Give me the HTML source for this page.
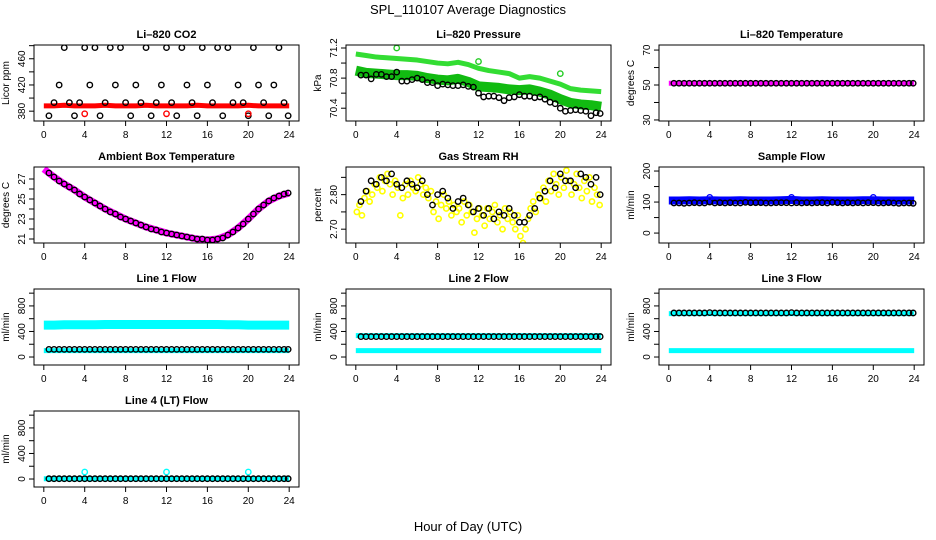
<!DOCTYPE html>
<html><head><meta charset="utf-8"><style>
body{margin:0;background:#fff}
svg{display:block;font-family:"Liberation Sans",Arial,sans-serif}
</style></head><body>
<svg id="c" width="936" height="540">
<text x="468" y="14" text-anchor="middle" font-size="13">SPL_110107  Average Diagnostics</text>
<text x="468" y="531" text-anchor="middle" font-size="13">Hour of Day (UTC)</text>
</svg>
<script>
// shared x data
const xTicks=[0,4,8,12,16,20,24];
const hourly=[0,1,2,3,4,5,6,7,8,9,10,11,12,13,14,15,16,17,18,19,20,21,22,23,24];
const halfHours=[0.5,1,1.5,2,2.5,3,3.5,4,4.5,5,5.5,6,6.5,7,7.5,8,8.5,9,9.5,10,10.5,11,11.5,12,12.5,13,13.5,14,14.5,15,15.5,16,16.5,17,17.5,18,18.5,19,19.5,20,20.5,21,21.5,22,22.5,23,23.5,23.9];
const outlierHours=[4,12,20];
// CO2
const co2Red=[388,388,389,388,388,388,389,388,388,388,389,388,388,388,388,389,388,388,388,388,389,388,388,388,388];
const co2Black=[373,393,420,477,393,373,393,477,420,477,373,393,477,420,477,393,373,420,393,477,373,393,420,477,393,373,477,420,393,373,477,420,393,477,373,477,393,420,393,373,477,420,393,373,420,477,393,373];
const co2Out=[376,376,376];
// Pressure
const presUpper=[71.12,71.10,71.08,71.07,71.06,71.05,71.04,71.02,71.00,70.99,71.01,70.98,70.93,70.90,70.88,70.86,70.80,70.82,70.80,70.76,70.72,70.66,70.64,70.63,70.62];
const presLower=[70.90,70.87,70.86,70.85,70.84,70.84,70.83,70.80,70.78,70.77,70.79,70.75,70.69,70.68,70.67,70.65,70.64,70.65,70.62,70.58,70.52,70.47,70.45,70.44,70.42];
const presBlack=[70.84,70.84,70.79,70.85,70.85,70.82,70.82,70.88,70.76,70.76,70.78,70.80,70.78,70.74,70.74,70.70,70.72,70.71,70.70,70.70,70.71,70.69,70.68,70.60,70.55,70.56,70.56,70.54,70.50,70.54,70.55,70.58,70.56,70.56,70.54,70.55,70.52,70.48,70.46,70.40,70.36,70.37,70.38,70.37,70.36,70.30,70.34,70.33];
const presOut=[71.20,71.02,70.86];
// Li-820 temperature
const tempMag=[51,51,51,51,51,51,51,51,51,51,51,51,51,51,51,51,51,51,51,51,51,51,51,51,51];
const tempBlack=[51,51,51,51,51,51,51,51,51,51,51,51,51,51,51,51,51,51,51,51,51,51,51,51,51,51,51,51,51,51,51,51,51,51,51,51,51,51,51,51,51,51,51,51,51,51,51,51];
// Ambient box temperature
const ambMag=[28.0,27.2,26.5,25.9,25.2,24.6,24.0,23.5,23.0,22.6,22.2,21.9,21.6,21.4,21.2,21.0,20.9,21.0,21.4,22.1,23.0,24.0,24.8,25.3,25.6];
const ambBlack=[27.6,27.2,26.8,26.5,26.2,25.9,25.5,25.2,24.9,24.6,24.3,24.0,23.7,23.5,23.2,23.0,22.8,22.6,22.4,22.2,22.0,21.9,21.7,21.6,21.5,21.4,21.3,21.2,21.1,21.0,21.0,20.9,20.9,21.0,21.1,21.4,21.7,22.1,22.5,23.0,23.5,24.0,24.4,24.8,25.1,25.3,25.5,25.6];
// Gas stream RH
const rhYellow=[2.75,2.77,2.74,2.79,2.81,2.78,2.80,2.83,2.82,2.85,2.81,2.84,2.86,2.83,2.80,2.84,2.82,2.74,2.79,2.83,2.80,2.84,2.82,2.81,2.85,2.83,2.80,2.82,2.79,2.81,2.75,2.78,2.73,2.77,2.80,2.76,2.78,2.74,2.77,2.75,2.76,2.72,2.78,2.74,2.77,2.75,2.69,2.73,2.76,2.74,2.71,2.76,2.73,2.75,2.77,2.72,2.74,2.70,2.76,2.73,2.75,2.72,2.70,2.74,2.68,2.66,2.70,2.73,2.76,2.78,2.75,2.80,2.79,2.82,2.78,2.84,2.81,2.86,2.83,2.80,2.85,2.82,2.87,2.84,2.80,2.83,2.86,2.82,2.79,2.84,2.81,2.85,2.78,2.82,2.80,2.77];
const rhBlack=[2.78,2.81,2.84,2.83,2.85,2.84,2.86,2.83,2.82,2.84,2.83,2.82,2.84,2.80,2.77,2.80,2.81,2.79,2.76,2.78,2.79,2.77,2.75,2.76,2.74,2.76,2.73,2.75,2.74,2.76,2.74,2.72,2.72,2.74,2.76,2.79,2.81,2.84,2.82,2.86,2.84,2.84,2.82,2.86,2.85,2.83,2.85,2.80];
// Sample flow
const sfBlue=[105,105,106,105,106,105,105,106,105,105,105,106,107,105,105,106,105,105,105,106,106,105,105,105,105];
const sfBlack=[97,97,96,97,98,97,97,100,97,98,97,98,97,97,99,98,98,98,97,97,98,98,98,97,98,97,98,97,98,98,97,99,98,97,98,97,98,97,98,98,97,97,98,97,96,97,97,96];
const sfOut=[115,115,115];
// Line flows
const l1CyanHi=[500,500,505,505,505,505,510,510,510,510,510,510,510,510,510,510,510,510,505,505,500,500,500,500,500];
const l1CyanLo=[100,100,100,100,100,100,100,100,100,100,100,100,100,100,100,100,100,100,100,100,100,100,100,100,100];
const l1Black=[120,120,120,120,120,120,120,120,120,120,120,120,120,120,120,120,120,120,120,120,120,120,120,120,120,120,120,120,120,120,120,120,120,120,120,120,120,120,120,120,120,120,120,120,120,120,120,120];
const l2CyanHi=[335,335,335,335,335,335,335,335,335,335,335,335,335,335,335,335,335,335,335,335,335,335,335,335,335];
const l2CyanLo=[100,100,100,100,100,100,100,100,100,100,100,100,100,100,100,100,100,100,100,100,100,100,100,100,100];
const l2Black=[320,320,320,320,320,320,320,320,320,320,320,320,320,320,320,320,320,320,320,320,320,320,320,320,320,320,320,320,320,320,320,320,320,320,320,320,320,320,320,320,320,320,320,320,320,320,320,320];
const l3CyanHi=[680,680,680,680,680,680,680,680,680,680,680,680,680,680,680,680,680,680,680,680,680,680,680,680,680];
const l3CyanLo=[100,100,100,100,100,100,100,100,100,100,100,100,100,100,100,100,100,100,100,100,100,100,100,100,100];
const l3Black=[690,690,690,690,690,690,690,695,690,690,690,690,690,690,690,690,690,690,690,690,690,690,690,695,690,690,690,690,690,690,690,690,690,690,690,690,690,690,690,690,690,690,690,690,690,690,690,690];
const l4Cyan=[5,5,5,5,5,5,5,5,5,5,5,5,5,5,5,5,5,5,5,5,5,5,5,5,5];
const l4Black=[5,5,5,5,5,5,5,5,5,5,5,5,5,5,5,5,5,5,5,5,5,5,5,5,5,5,5,5,5,5,5,5,5,5,5,5,5,5,5,5,5,5,5,5,5,5,5,5];
const l4Out=[110,110,110];

const svg=document.getElementById('c');
const NS='http://www.w3.org/2000/svg';
function mk(tag,attrs,parent){const e=document.createElementNS(NS,tag);for(const k in attrs)e.setAttribute(k,attrs[k]);(parent||svg).appendChild(e);return e;}
const colX=[34,346,659],rowY=[45,167,289,411],PW=265,PH=76;
const flowTicks=[0,200,400,600,800,1000],flowLabels=['0','','400','','800',''];
const panels=[
 {t:'Li\u2013820 CO2',c:0,r:0,d:[365,481],yl:'Licor ppm',ticks:[380,400,420,440,460,480],labs:['380','','420','','460',''],s:[
  {k:'line',x:hourly,y:co2Red,col:'#ff0000',w:5},{k:'pts',x:halfHours,y:co2Black,col:'#000'},{k:'pts',x:outlierHours,y:co2Out,col:'#ff0000'}]},
 {t:'Li\u2013820 Pressure',c:1,r:0,d:[70.23,71.24],yl:'kPa',ticks:[70.4,70.6,70.8,71.0,71.2],labs:['70.4','','70.8','','71.2'],s:[
  {k:'line',x:hourly,y:presUpper,col:'#33dd33',w:5},{k:'line',x:hourly,y:presLower,col:'#11bb11',w:10},{k:'pts',x:halfHours,y:presBlack,col:'#000'},{k:'pts',x:outlierHours,y:presOut,col:'#22cc22'}]},
 {t:'Li\u2013820 Temperature',c:2,r:0,d:[29.4,72.9],yl:'degrees C',ticks:[30,40,50,60,70],labs:['30','','50','','70'],s:[
  {k:'line',x:hourly,y:tempMag,col:'#ff00ff',w:5},{k:'pts',x:halfHours,y:tempBlack,col:'#000'}]},
 {t:'Ambient Box Temperature',c:0,r:1,d:[20.6,28.2],yl:'degrees C',ticks:[21,22,23,24,25,26,27],labs:['21','','23','','25','','27'],s:[
  {k:'line',x:hourly,y:ambMag,col:'#ff00ff',w:7},{k:'pts',x:halfHours,y:ambBlack,col:'#000'}]},
 {t:'Gas Stream RH',c:1,r:1,d:[2.66,2.88],yl:'percent',ticks:[2.70,2.75,2.80,2.85],labs:['2.70','','2.80',''],s:[
  {k:'yel'},{k:'pts',x:halfHours,y:rhBlack,col:'#000'}]},
 {t:'Sample Flow',c:2,r:1,d:[-32,213],yl:'ml/min',ticks:[0,50,100,150,200],labs:['0','','100','','200'],s:[
  {k:'line',x:hourly,y:sfBlue,col:'#0000ff',w:8},{k:'pts',x:halfHours,y:sfBlack,col:'#000'},{k:'pts',x:outlierHours,y:sfOut,col:'#0000ff'}]},
 {t:'Line 1 Flow',c:0,r:2,d:[-125,1065],yl:'ml/min',ticks:flowTicks,labs:flowLabels,s:[
  {k:'line',x:hourly,y:l1CyanHi,col:'#00ffff',w:9},{k:'line',x:hourly,y:l1CyanLo,col:'#00ffff',w:5},{k:'pts',x:halfHours,y:l1Black,col:'#000'}]},
 {t:'Line 2 Flow',c:1,r:2,d:[-125,1065],yl:'ml/min',ticks:flowTicks,labs:flowLabels,s:[
  {k:'line',x:hourly,y:l2CyanHi,col:'#00ffff',w:5},{k:'line',x:hourly,y:l2CyanLo,col:'#00ffff',w:5},{k:'pts',x:halfHours,y:l2Black,col:'#000'}]},
 {t:'Line 3 Flow',c:2,r:2,d:[-125,1065],yl:'ml/min',ticks:flowTicks,labs:flowLabels,s:[
  {k:'line',x:hourly,y:l3CyanHi,col:'#00ffff',w:5},{k:'line',x:hourly,y:l3CyanLo,col:'#00ffff',w:5},{k:'pts',x:halfHours,y:l3Black,col:'#000'}]},
 {t:'Line 4 (LT) Flow',c:0,r:3,d:[-125,1065],yl:'ml/min',ticks:flowTicks,labs:flowLabels,s:[
  {k:'line',x:hourly,y:l4Cyan,col:'#00ffff',w:5},{k:'pts',x:halfHours,y:l4Black,col:'#000'},{k:'pts',x:outlierHours,y:l4Out,col:'#00ffff'}]}
];
const yelHours=rhYellow.map((_,i)=>0.1+i*0.25);
panels.forEach((p,pi)=>{
  const x0=colX[p.c],y0=rowY[p.r];
  const g=mk('g',{});
  
  
  const sx=h=>x0+(h+0.96)/25.92*PW;
  const sy=v=>y0+PH-(v-p.d[0])/(p.d[1]-p.d[0])*PH;
  const t=mk('text',{x:x0+PW/2,y:y0-7,'text-anchor':'middle','font-size':11,'font-weight':'bold'},g);t.textContent=p.t;
  
  
  const clip=mk('clipPath',{id:'cp'+pi},g);mk('rect',{x:x0,y:y0,width:PW,height:PH},clip);
  const dg=mk('g',{'clip-path':'url(#cp'+pi+')'},g);
  p.s.forEach(s=>{
    if(s.k==='line'){
      const pl=mk('polyline',{points:s.x.map((h,i)=>sx(h)+','+sy(s.y[i])).join(' '),fill:'none',stroke:s.col,'stroke-width':s.w,'stroke-linejoin':'round'},dg);
      
      
    }else if(s.k==='yel'){
      rhYellow.forEach((v,i)=>{const c=mk('circle',{cx:sx(yelHours[i]),cy:sy(v),r:2.6,fill:'none',stroke:'#ffff00','stroke-width':1.6},dg);
        
        });
    }else{
      s.y.forEach((v,i)=>{const c=mk('circle',{cx:sx(s.x[i]),cy:sy(v),r:2.7,fill:'none',stroke:s.col,'stroke-width':1.4},dg);
        
        });
    }
  });
  mk('rect',{x:x0,y:y0,width:PW,height:PH,fill:'none',stroke:'#000','stroke-width':1},g);
  xTicks.forEach(h=>{mk('line',{x1:sx(h),x2:sx(h),y1:y0+PH,y2:y0+PH+5,stroke:'#000'},g);
    const l=mk('text',{x:sx(h),y:y0+PH+17,'text-anchor':'middle','font-size':10},g);l.textContent=h;
    
    });
  mk('line',{x1:x0,x2:x0,y1:sy(p.ticks[0]),y2:sy(p.ticks[p.ticks.length-1]),stroke:'#000'},g);
  p.ticks.forEach((v,i)=>{mk('line',{x1:x0-5,x2:x0,y1:sy(v),y2:sy(v),stroke:'#000'},g);
    if(p.labs[i]){const l=mk('text',{x:x0-9,y:sy(v),'text-anchor':'middle','font-size':10,transform:'rotate(-90 '+(x0-9)+' '+sy(v)+')'},g);l.textContent=p.labs[i];
      
      }});
  const yl=mk('text',{x:x0-25,y:y0+PH/2,'text-anchor':'middle','font-size':10,transform:'rotate(-90 '+(x0-25)+' '+(y0+PH/2)+')'},g);yl.textContent=p.yl;
  
  
});
</script>
</body></html>
